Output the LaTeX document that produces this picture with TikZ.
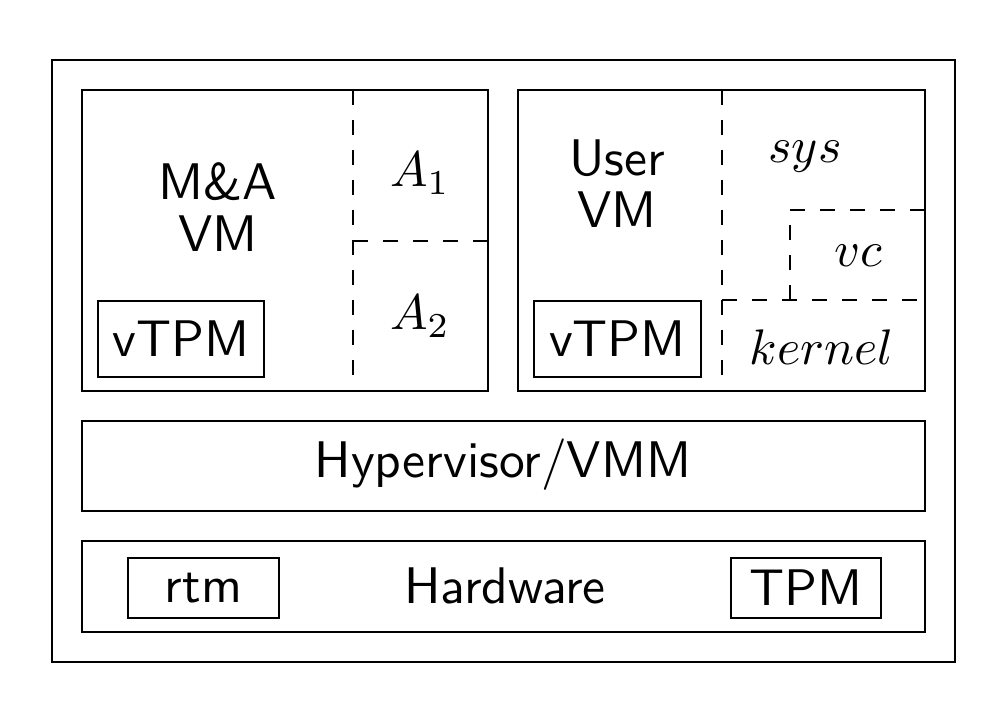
\documentclass[tikz,border=0pt]{standalone}
\usepackage{amsmath}
\usepackage{amssymb}
\usetikzlibrary{calc}

\begin{document}
\begin{tikzpicture}[x=0.2pt, y=-0.2pt,
        every node/.style={font=\sffamily\fontsize{10.3}{10.4}\selectfont},
        label/.style={anchor=base, align=center},
        chip/.style={draw, anchor=north west, inner sep=0pt}]
        \useasboundingbox (0,0) rectangle (1004,702);

        % platform
        \draw (52,60) rectangle (955,662);

        % M&A VM
        \draw (82,90) rectangle (488,391);
        \draw [dashed] (353,90) -- (353,391);
        \draw [dashed] (353,241) -- (488,241);
        \node [label] (MA) at (218,252) {M\&A\\VM};
        \node [label] (A1) at (420,187) {$A_1$};
        \node [label] (A2) at (420,330) {$A_2$};
        \node [chip, minimum width=33.2pt, minimum height=15.2pt] (vTPMa) at (97,300) {vTPM};

        % User VM
        \draw (518,90) rectangle (925,391);
        \draw [dashed] (722,90) -- (722,391);
        \draw [dashed] (722,300) -- (925,300);
        \draw [dashed] (790,300) -- (790,210) -- (925,210);
        \node [label] (UV) at (617,228) {User\\VM};
        \node [label] (sys) at (805,163) {$sys$};
        \node [label] (vc) at (858,267) {$vc$};
        \node [label] (kern) at (822,365) {$kernel$};
        \node [chip, minimum width=33.4pt, minimum height=15.2pt] (vTPMb) at (533,300) {vTPM};

        % Hypervisor
        \draw (82,421) rectangle (925,511);
        \node [label] (HV) at (503,478) {Hypervisor/VMM};

        % Hardware
        \draw (82,541) rectangle (925,632);
        \node [label] (HW) at (505,604) {Hardware};
        \node [chip, minimum width=30.2pt, minimum height=12pt] (rtm) at (127,557) {rtm};
        \node [chip, minimum width=30pt, minimum height=12pt] (TPM) at (730,557) {TPM};
    \end{tikzpicture}
\end{document}
